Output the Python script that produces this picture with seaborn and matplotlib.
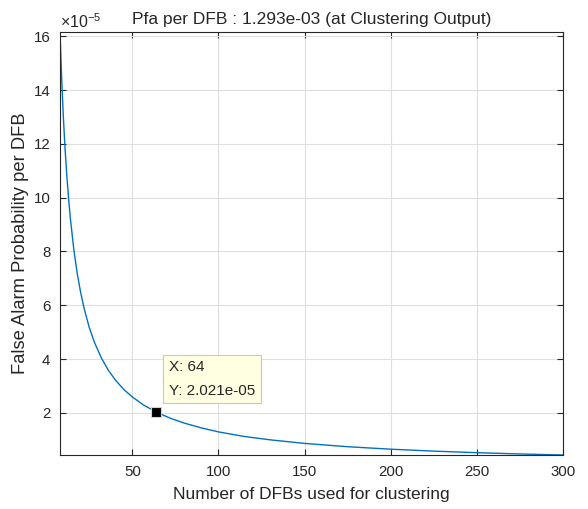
import matplotlib
matplotlib.use("Agg")
import matplotlib.pyplot as plt
import seaborn as sns
import pandas as pd
from matplotlib.ticker import FuncFormatter

# Values (false alarm probability per DFB vs. number of DFBs)
n_dfbs = [8, 9, 10, 11, 12, 13, 14, 16, 18, 20, 22, 25, 28, 32, 36, 40, 45, 50,
          56, 64, 72, 80, 90, 100, 115, 130, 150, 175, 200, 225, 250, 275, 300]
pfa_e5 = [16.16, 14.37, 12.93, 11.75, 10.78, 9.95, 9.24, 8.08, 7.18, 6.47, 5.88,
          5.17, 4.62, 4.04, 3.59, 3.23, 2.87, 2.59, 2.31, 2.021, 1.80, 1.62, 1.44,
          1.29, 1.12, 0.995, 0.862, 0.739, 0.647, 0.575, 0.517, 0.470, 0.431]
pfa = [v * 1e-5 for v in pfa_e5]

tip_x = 64
tip_y = 2.021e-05
title = "Pfa per DFB : 1.293e-03 (at Clustering Output)"
xlabel = "Number of DFBs used for clustering"
ylabel = "False Alarm Probability per DFB"
xticks = [50, 100, 150, 200, 250, 300]
yticks_e5 = [2, 4, 6, 8, 10, 12, 14, 16]

df = pd.DataFrame({"n": n_dfbs, "pfa": pfa})

sns.set_theme(style="whitegrid")
plt.rcParams["font.family"] = ["Liberation Sans", "DejaVu Sans"]
plt.rcParams["mathtext.fontset"] = "custom"
plt.rcParams["mathtext.rm"] = "Liberation Sans"

fig = plt.figure(figsize=(5.88, 5.09), dpi=100)
fig.patch.set_facecolor("white")
ax = fig.add_axes([60 / 588, 54 / 509, 503 / 588, 423 / 509])
ax.set_facecolor("white")

sns.lineplot(data=df, x="n", y="pfa", ax=ax, color="#0072BD", linewidth=1.0)

ax.set_xlim(min(n_dfbs), max(n_dfbs))
ax.set_ylim(min(pfa), max(pfa))
ax.set_xticks(xticks)
ax.set_yticks([v * 1e-5 for v in yticks_e5])
ax.yaxis.set_major_formatter(FuncFormatter(lambda v, p: f"{v / 1e-5:.0f}"))

dark = "#262626"
for s in ax.spines.values():
    s.set_visible(True)
    s.set_color(dark)
    s.set_linewidth(0.8)
ax.grid(True, color="#dfdfdf", linewidth=0.8)
ax.tick_params(direction="in", length=4, width=0.8, colors=dark,
               labelsize=10.8, top=True, right=True, bottom=True, left=True,
               pad=7)
for lab in ax.get_xticklabels() + ax.get_yticklabels():
    lab.set_color(dark)

ax.set_title(title, fontsize=12.5, color=dark, pad=6)
ax.set_xlabel(xlabel, fontsize=12.5, color=dark, labelpad=6)
ax.set_ylabel(ylabel, fontsize=13.2, color=dark, labelpad=3)

ax.text(0.0, 1.003, r"$\times\mathregular{10^{-5}}$", transform=ax.transAxes,
        ha="left", va="bottom", fontsize=11.5, color=dark)

# data tip
ax.plot([tip_x], [tip_y], marker="s", markersize=7, color="black",
        markeredgecolor="#d8d8a0", markeredgewidth=0.8, zorder=5)
ax.annotate(f"X: {tip_x}\nY: {tip_y:.3e}", xy=(tip_x, tip_y),
            xytext=(9, 10.5), textcoords="offset points",
            ha="left", va="bottom", fontsize=11, color=dark,
            linespacing=1.85,
            bbox=dict(boxstyle="square,pad=0.38", facecolor="#ffffe1",
                      edgecolor="#c8c8c8", linewidth=0.8), zorder=6)

fig.savefig("out.png", dpi=100, facecolor="white")
